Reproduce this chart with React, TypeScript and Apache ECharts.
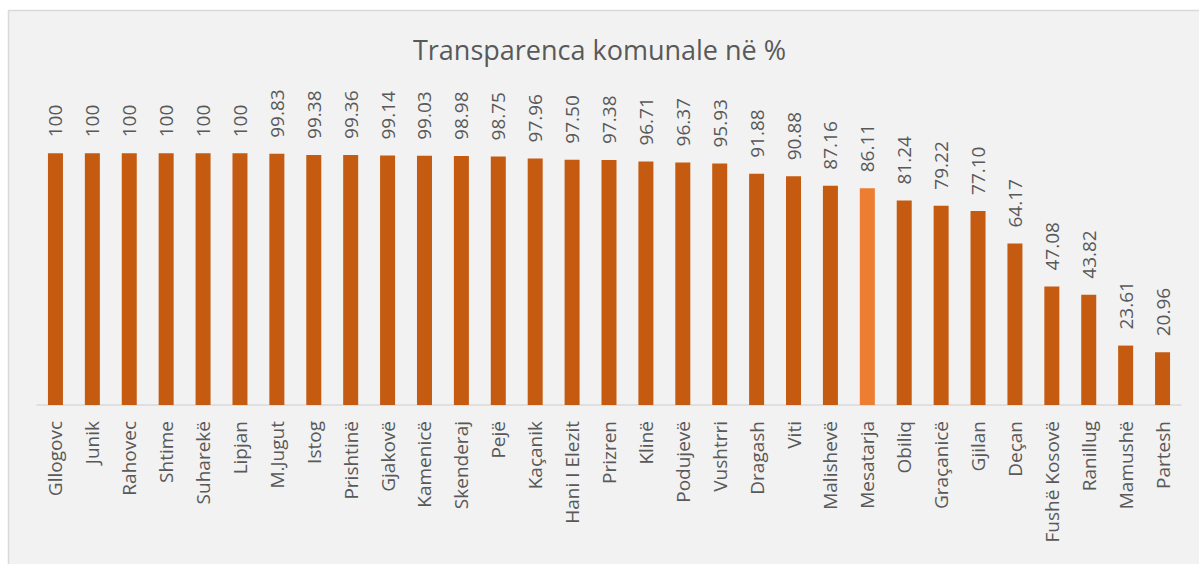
import React, { useEffect, useRef } from "react";
import * as echarts from "echarts";

const categories = [
  "Gllogovc", "Junik", "Rahovec", "Shtime", "Suharekë", "Lipjan", "M.Jugut", "Istog",
  "Prishtinë", "Gjakovë", "Kamenicë", "Skenderaj", "Pejë", "Kaçanik", "Hani I Elezit",
  "Prizren", "Klinë", "Podujevë", "Vushtrri", "Dragash", "Viti", "Malishevë", "Mesatarja",
  "Obiliq", "Graçanicë", "Gjilan", "Deçan", "Fushë Kosovë", "Ranillug", "Mamushë", "Partesh",
];
const values = [
  100, 100, 100, 100, 100, 100, 99.83, 99.38, 99.36, 99.14, 99.03, 98.98, 98.75, 97.96,
  97.5, 97.38, 96.71, 96.37, 95.93, 91.88, 90.88, 87.16, 86.11, 81.24, 79.22, 77.1, 64.17,
  47.08, 43.82, 23.61, 20.96,
];
const averageName = "Mesatarja";
const titleText = "Transparenca komunale në %";

const BAR = "#C55A11";
const AVG = "#ED7D31";
const TEXT = "#595959";
const FONT = "Open Sans";

export default function App() {
  const ref = useRef<HTMLDivElement>(null);
  useEffect(() => {
    if (!ref.current) return;
    const chart = echarts.init(ref.current, null, { renderer: "svg" });
    chart.setOption({
      animation: false,
      backgroundColor: "#FFFFFF",
      textStyle: { fontFamily: FONT },
      graphic: [
        {
          type: "rect",
          z: -10,
          shape: { x: 8.5, y: 10.5, width: 1200, height: 560 },
          style: { fill: "#F2F2F2", stroke: "#D9D9D9", lineWidth: 1.5 },
        },
      ],
      title: {
        text: titleText,
        left: "center",
        top: 31,
        textStyle: { fontFamily: FONT, fontSize: 27, fontWeight: "normal", color: TEXT },
      },
      grid: { left: 37, right: 18, top: 103, bottom: 159, containLabel: false },
      xAxis: {
        type: "category",
        data: categories,
        axisLine: { lineStyle: { color: "#D9D9D9", width: 1.5 } },
        axisTick: { show: false },
        axisLabel: {
          rotate: 90,
          interval: 0,
          margin: 16,
          color: TEXT,
          fontFamily: FONT,
          fontSize: 19,
        },
      },
      yAxis: {
        type: "value",
        min: 0,
        max: 120,
        show: false,
        splitLine: { show: false },
      },
      series: [
        {
          type: "bar",
          barWidth: 15,
          data: categories.map((c, i) => ({
            value: values[i],
            itemStyle: { color: c === averageName ? AVG : BAR },
          })),
          label: {
            show: true,
            position: "top",
            rotate: 90,
            align: "left",
            verticalAlign: "middle",
            distance: 16,
            color: TEXT,
            fontFamily: FONT,
            fontSize: 19,
            formatter: (p: any) => (p.value === 100 ? "100" : Number(p.value).toFixed(2)),
          },
        },
      ],
    });
    return () => chart.dispose();
  }, []);
  return (
    <div
      ref={ref}
      style={{ position: "fixed", left: 0, top: 0, width: 1199, height: 564 }}
    />
  );
}
